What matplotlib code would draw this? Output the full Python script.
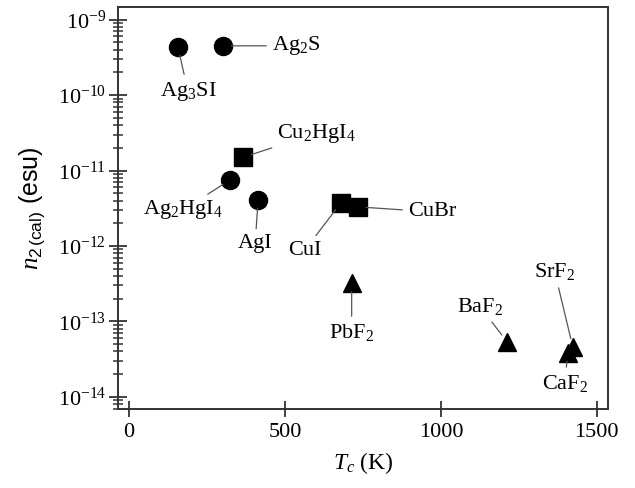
import matplotlib
matplotlib.use("Agg")
import matplotlib.pyplot as plt
from matplotlib.ticker import FixedLocator, FixedFormatter, LogLocator, NullFormatter

plt.rcParams['font.family'] = ['Liberation Serif', 'DejaVu Serif']
plt.rcParams['mathtext.fontset'] = 'custom'
plt.rcParams['mathtext.rm'] = 'Liberation Serif'
plt.rcParams['mathtext.it'] = 'Liberation Serif:italic'
plt.rcParams['mathtext.sf'] = 'Liberation Sans'
plt.rcParams['mathtext.default'] = 'regular'

# ====== DATA ======
names = ["Ag$_3$SI", "Ag$_2$S", "Cu$_2$HgI$_4$", "Ag$_2$HgI$_4$", "AgI",
         "CuI", "CuBr", "PbF$_2$", "BaF$_2$", "SrF$_2$", "CaF$_2$"]
tc = [157, 301, 366, 324, 414, 679, 734, 714, 1212, 1423, 1407]
n2 = [4.3e-10, 4.5e-10, 1.5e-11, 7.5e-12, 4.1e-12,
      3.7e-12, 3.3e-12, 3.2e-13, 5.4e-14, 4.6e-14, 3.8e-14]
shapes = ["o", "o", "s", "o", "o", "s", "s", "^", "^", "^", "^"]

# label offsets in pixels from the marker, and text alignment
offsets = [(10, -44), (49, 0), (34, 24), (-47, -30), (-3, -44),
           (-36, -47), (50, -5), (0, -49), (-27, 35), (-18, 75), (-3, -30)]
aligns = ["center", "left", "left", "center", "center",
          "center", "left", "center", "center", "center", "center"]

fig = plt.figure(figsize=(6.35, 4.88), dpi=100)
ax = fig.add_axes([0.186, 0.162, 0.771, 0.824])

for x, y, m in zip(tc, n2, shapes):
    ax.plot(x, y, marker=m, color="black", markersize=13,
            linestyle="none", zorder=3)

for name, x, y, off, ha in zip(names, tc, n2, offsets, aligns):
    ax.annotate(name, xy=(x, y), xytext=off, textcoords="offset pixels",
                ha=ha, va="center", fontsize=16,
                arrowprops=dict(arrowstyle="-", color="#555555", lw=0.9,
                                shrinkA=2, shrinkB=6))

ax.set_yscale("log")
ax.set_xlim(-35, 1535)
ax.set_ylim(10 ** -14.16, 10 ** -8.83)

ax.xaxis.set_major_locator(FixedLocator([0, 500, 1000, 1500]))
ax.xaxis.set_major_formatter(FixedFormatter(["0", "500", "1000", "1500"]))
decades = [1e-14, 1e-13, 1e-12, 1e-11, 1e-10, 1e-9]
ax.yaxis.set_major_locator(FixedLocator(decades))
ax.yaxis.set_major_formatter(FixedFormatter(
    ["10$^{-14}$", "10$^{-13}$", "10$^{-12}$", "10$^{-11}$", "10$^{-10}$", "10$^{-9}$"]))
ax.yaxis.set_minor_locator(LogLocator(base=10, subs=range(2, 10), numticks=20))
ax.yaxis.set_minor_formatter(NullFormatter())

ax.tick_params(axis="both", which="major", direction="inout", labelsize=16,
               color="#333333", width=1.3, top=False, right=False)
ax.tick_params(axis="x", which="major", length=12, pad=4)
ax.tick_params(axis="y", which="major", length=13, pad=2)
ax.tick_params(axis="y", which="minor", direction="inout", length=7,
               width=1.1, color="#333333", right=False)

for s in ax.spines.values():
    s.set_linewidth(1.4)
    s.set_color("#333333")

ax.set_xlabel("$\\mathit{T_c}$ (K)", fontsize=17, labelpad=6)
ax.set_ylabel("$\\mathit{n}_{2\\,\\mathsf{(cal)}}$ (esu)", fontsize=18,
              family="Liberation Sans", labelpad=8)

fig.savefig("out.png", dpi=100)
